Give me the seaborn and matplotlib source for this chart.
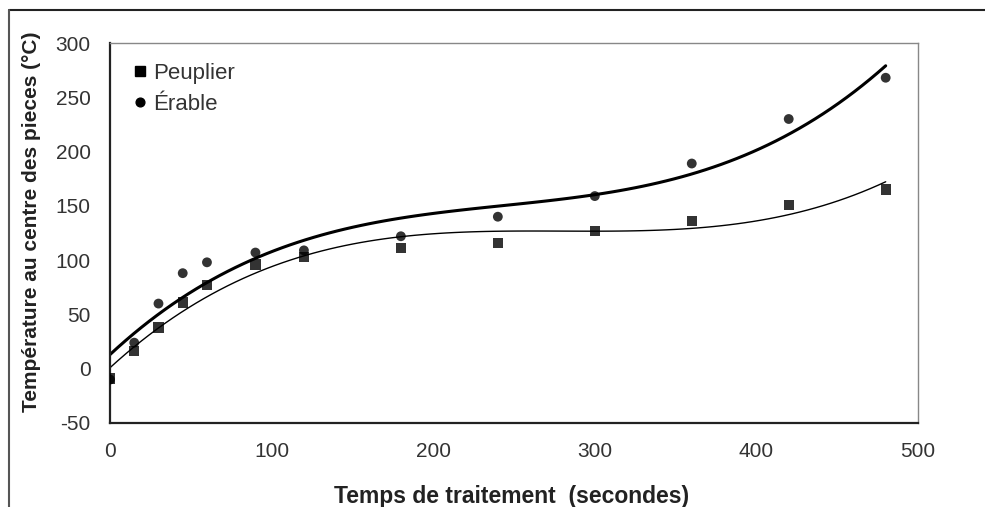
import numpy as np
import pandas as pd
import seaborn as sns
import matplotlib.pyplot as plt
from matplotlib.lines import Line2D

# temps de traitement (s)
temps = [0, 15, 30, 45, 60, 90, 120, 180, 240, 300, 360, 420, 480]
# temperature au centre (C)
peuplier = [-9, 16, 38, 61, 77, 96, 103, 111, 116, 127, 136, 151, 165]
erable = [-10, 24, 60, 88, 98, 107, 109, 122, 140, 159, 189, 230, 268]

df = pd.DataFrame({"temps": temps, "Peuplier": peuplier, "Érable": erable})

sns.set_style("white")
plt.rcParams['font.family'] = ['Liberation Sans', 'DejaVu Sans']
plt.rcParams['axes.unicode_minus'] = False

fig = plt.figure(figsize=(9.85, 5.07), dpi=100)
ax = fig.add_axes([110 / 985, 84 / 507, 808 / 985, 380 / 507])

# trendlines polynomiales (ordre 3) + points
sns.regplot(data=df, x="temps", y="Érable", order=3, ci=None, ax=ax,
            marker="o", color="black",
            scatter_kws={"s": 50, "edgecolors": "none", "zorder": 3},
            line_kws={"lw": 2.2, "zorder": 2})
sns.regplot(data=df, x="temps", y="Peuplier", order=3, ci=None, ax=ax,
            marker="s", color="black",
            scatter_kws={"s": 54, "edgecolors": "none", "zorder": 3},
            line_kws={"lw": 1.0, "zorder": 2})

ax.set_xlim(0, 500)
ax.set_ylim(-50, 300)
ax.set_xticks(range(0, 501, 100))
ax.set_yticks(range(-50, 301, 50))

ax.set_xlabel("Temps de traitement  (secondes)", fontsize=16.5, fontweight="bold",
              color="#222222")
ax.xaxis.set_label_coords(0.497, -0.163)
ax.set_ylabel("Température au centre des pieces (°C)", fontsize=15, fontweight="bold",
              color="#222222")
ax.yaxis.set_label_coords(-0.086, 0.53)

ax.tick_params(axis="both", labelsize=15, colors="#333333", length=5, width=1.2)
ax.tick_params(axis="x", direction="inout", pad=11)
ax.tick_params(axis="y", direction="out", pad=9)

for s in ["left", "bottom"]:
    ax.spines[s].set_color("#222222")
    ax.spines[s].set_linewidth(1.6)
for s in ["top", "right"]:
    ax.spines[s].set_color("#888888")
    ax.spines[s].set_linewidth(1.0)

handles = [Line2D([], [], marker="s", color="black", ls="none", markersize=6.8),
           Line2D([], [], marker="o", color="black", ls="none", markersize=6.3)]
leg = ax.legend(handles, ["Peuplier", "Érable"], loc="upper left", frameon=False,
                fontsize=16, handletextpad=0.2, handlelength=0.8, labelspacing=0.45,
                borderpad=0, borderaxespad=0, bbox_to_anchor=(0.026, 0.948))
for t in leg.get_texts():
    t.set_color("#333333")

# cadre exterieur
fig.add_artist(Line2D([9 / 985, 1.0], [1 - 10 / 507, 1 - 10 / 507], transform=fig.transFigure,
                      color="#222222", lw=1.5))
fig.add_artist(Line2D([9 / 985, 9 / 985], [0, 1 - 10 / 507], transform=fig.transFigure,
                      color="#555555", lw=1.5))

fig.savefig("out.png", dpi=100)
